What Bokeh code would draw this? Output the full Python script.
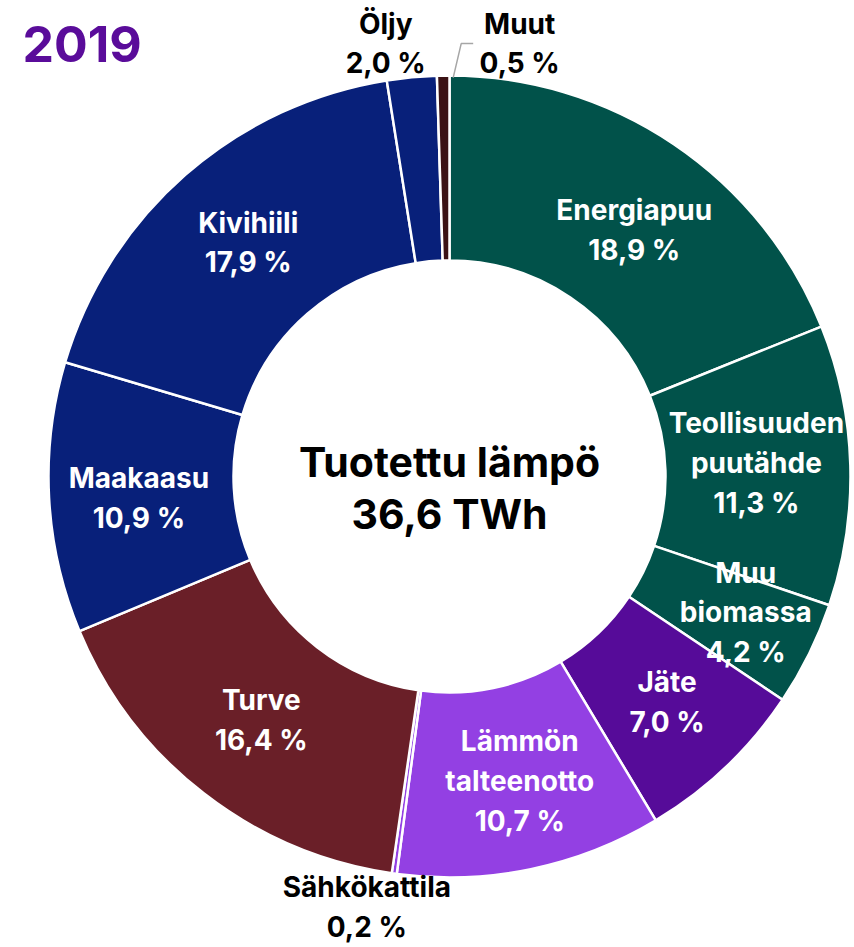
import math
from bokeh.plotting import figure
from bokeh.models import Range1d, ColumnDataSource
from bokeh.embed import file_html
from bokeh.resources import INLINE
from bokeh.core.properties import value

# ---- data ----
categories = ["Energiapuu", "Teollisuuden\npuutähde", "Muu\nbiomassa", "Jäte",
              "Lämmön\ntalteenotto", "Sähkökattila", "Turve", "Maakaasu",
              "Kivihiili", "Öljy", "Muut"]
shares = [18.9, 11.3, 4.2, 7.0, 10.7, 0.2, 16.4, 10.9, 17.9, 2.0, 0.5]
pct_labels = ["18,9 %", "11,3 %", "4,2 %", "7,0 %", "10,7 %", "0,2 %",
              "16,4 %", "10,9 %", "17,9 %", "2,0 %", "0,5 %"]
colors = ["#01524A", "#01524A", "#01524A", "#560B99", "#9340E3", "#9340E3",
          "#6A1F28", "#08207A", "#08207A", "#08207A", "#3B1215"]
year = "2019"
center_text = "Tuotettu lämpö\n36,6 TWh"

# ---- layout (style) ----
W, H = 854, 947
cx, cy = 449, H - 476
r_out, r_in = 401, 216
label_r = [307, 307, 307, 307, 307, 440, 307, 307, 307, 433, 433]
label_dx = [13, 0, 21, 6, 8, -22, 0, -4, 1, -23, 77]
label_dy = [-8, 5, 0, -3, -4, 5, -1, -5, 3, 2, 0]
outside = [False, False, False, False, False, True, False, False, False, True, True]

total = sum(shares)
starts, ends, mids = [], [], []
acc = 0.0
for s in shares:
    a0 = math.pi / 2 - 2 * math.pi * acc / total
    acc += s
    a1 = math.pi / 2 - 2 * math.pi * acc / total
    starts.append(a0)
    ends.append(a1)
    mids.append((a0 + a1) / 2)

p = figure(width=W, height=H, output_backend="svg", toolbar_location=None,
           x_range=Range1d(0, W), y_range=Range1d(0, H),
           min_border=0, outline_line_color=None)
p.axis.visible = False
p.grid.visible = False
p.background_fill_color = "white"

src = ColumnDataSource(dict(start=starts, end=ends, color=colors))
p.annular_wedge(x=cx, y=cy, inner_radius=r_in, outer_radius=r_out,
                start_angle="end", end_angle="start", direction="anticlock",
                fill_color="color", line_color="white", line_width=2.5,
                source=src)

# labels
lx, ly, ltxt, lcol = [], [], [], []
for i, (c, pl) in enumerate(zip(categories, pct_labels)):
    x = cx + label_r[i] * math.cos(mids[i]) + label_dx[i]
    y = cy + label_r[i] * math.sin(mids[i]) + label_dy[i]
    lx.append(x)
    ly.append(y)
    ltxt.append(c + "\n" + pl)
    lcol.append("#000000" if outside[i] else "white")

p.text(x=lx, y=ly, text=ltxt, text_color=lcol, text_align="center",
       text_baseline="middle", text_font=value("Inter"), text_font_style="bold",
       text_font_size="28px", text_line_height=1.17)

# leader line for "Muut"
m = len(shares) - 1
x0 = cx + r_out * math.cos(mids[m])
y0 = cy + r_out * math.sin(mids[m])
p.line(x=[x0 + 10, x0 + 18, x0 + 30], y=[y0 - 2, y0 + 32, y0 + 32],
       line_color="#A6A6A6", line_width=1.5)

# center text
p.text(x=[cx], y=[cy - 11], text=[center_text], text_color="black",
       text_align="center", text_baseline="middle", text_font=value("Inter"),
       text_font_style="bold", text_font_size="41px", text_line_height=1.04)

# year title
p.text(x=[22], y=[H - 43], text=[year], text_color="#5A0C9A",
       text_align="left", text_baseline="middle", text_font=value("Inter"),
       text_font_style="bold", text_font_size="50px")

open("out.html", "w").write(file_html(p, INLINE))
